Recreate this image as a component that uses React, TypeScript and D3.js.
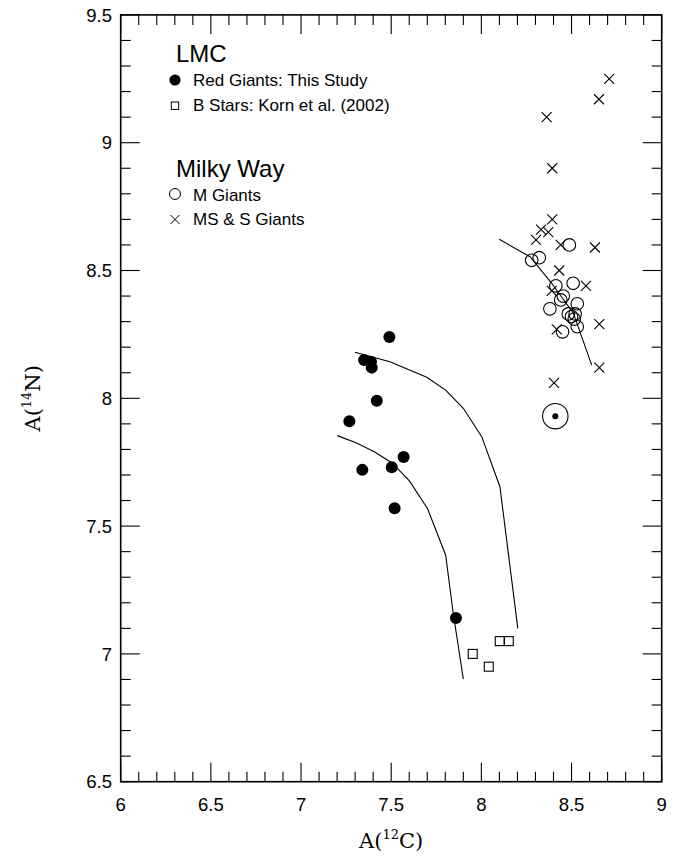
import React from 'react';
import * as d3 from 'd3';

const W = 678;
const H = 857;

const xTickValues = [6, 6.5, 7, 7.5, 8, 8.5, 9];
const xTickLabels = ['6', '6.5', '7', '7.5', '8', '8.5', '9'];
const yTickValues = [6.5, 7, 7.5, 8, 8.5, 9, 9.5];
const yTickLabels = ['6.5', '7', '7.5', '8', '8.5', '9', '9.5'];

// LMC red giants (this study): [A(12C), A(14N)]
const redGiants: [number, number][] = [
  [7.49, 8.24], [7.35, 8.15], [7.388, 8.143], [7.392, 8.12], [7.42, 7.99],
  [7.268, 7.91], [7.569, 7.77], [7.34, 7.72], [7.503, 7.73], [7.519, 7.57],
  [7.859, 7.14],
];

// LMC B stars (Korn et al. 2002)
const bStars: [number, number][] = [
  [7.952, 7.0], [8.041, 6.95], [8.102, 7.05], [8.152, 7.05],
];

// Milky Way M giants
const mGiants: [number, number][] = [
  [8.488, 8.60], [8.279, 8.54], [8.321, 8.55], [8.413, 8.44], [8.509, 8.45],
  [8.454, 8.40], [8.44, 8.385], [8.532, 8.37], [8.38, 8.35], [8.482, 8.33],
  [8.50, 8.32], [8.515, 8.31], [8.52, 8.33], [8.532, 8.28], [8.45, 8.26],
];

// Milky Way MS & S giants
const msGiants: [number, number][] = [
  [8.709, 9.25], [8.652, 9.17], [8.362, 9.10], [8.393, 8.90], [8.393, 8.70],
  [8.331, 8.66], [8.371, 8.65], [8.303, 8.62], [8.44, 8.60], [8.63, 8.59],
  [8.432, 8.50], [8.58, 8.44], [8.39, 8.42], [8.654, 8.29], [8.418, 8.27],
  [8.654, 8.12], [8.403, 8.06],
];

// Sun
const sun: [number, number] = [8.41, 7.93];

// Model tracks
const lowerTrack: [number, number][] = [
  [7.201, 7.854], [7.305, 7.826], [7.406, 7.791], [7.503, 7.748], [7.6, 7.678],
  [7.702, 7.568], [7.802, 7.386], [7.844, 7.159], [7.9, 6.901],
];
const upperTrack: [number, number][] = [
  [7.299, 8.18], [7.493, 8.143], [7.697, 8.082], [7.802, 8.032], [7.9, 7.961],
  [8.002, 7.85], [8.103, 7.654], [8.202, 7.1],
];
const mwTrack: [number, number][] = [
  [8.099, 8.622], [8.27, 8.554], [8.39, 8.45], [8.51, 8.333], [8.612, 8.13],
];

const x = d3.scaleLinear().domain([6, 9]).range([120.7, 661.7]);
const y = d3.scaleLinear().domain([6.5, 9.5]).range([781.7, 14.9]);

const sans = '"Liberation Sans", Arial, Helvetica, sans-serif';
const serif = '"DejaVu Serif", "Liberation Serif", serif';

function crossPath(cx: number, cy: number, h: number) {
  return `M${cx - h},${cy - h}L${cx + h},${cy + h}M${cx - h},${cy + h}L${cx + h},${cy - h}`;
}

export default function App() {
  const [x0, x1] = x.range();
  const [y0, y1] = y.range();
  const minorX = d3.range(60, 91).map((v) => v / 10);
  const minorY = d3.range(65, 96).map((v) => v / 10);
  const isMajor = (v: number) => Math.abs(v * 2 - Math.round(v * 2)) < 1e-6;
  const line = d3.line<[number, number]>().x((d) => x(d[0])).y((d) => y(d[1]));
  const majorLen = 19;
  const minorLen = 10;

  return (
    <svg width={W} height={H} style={{ position: 'absolute', left: 0, top: 0, background: '#fff' }}>
      {/* ticks */}
      <g stroke="#000" strokeWidth={1.1}>
        {minorX.map((v, i) => {
          const L = isMajor(v) ? majorLen : minorLen;
          const px = x(v);
          return (
            <g key={'xt' + i}>
              <line x1={px} x2={px} y1={y0} y2={y0 - L} />
              <line x1={px} x2={px} y1={y1} y2={y1 + L} />
            </g>
          );
        })}
        {minorY.map((v, i) => {
          const L = isMajor(v) ? majorLen : minorLen;
          const py = y(v);
          return (
            <g key={'yt' + i}>
              <line x1={x0} x2={x0 + L} y1={py} y2={py} />
              <line x1={x1} x2={x1 - L} y1={py} y2={py} />
            </g>
          );
        })}
      </g>
      {/* frame */}
      <rect x={x0} y={y1} width={x1 - x0} height={y0 - y1} fill="none" stroke="#000" strokeWidth={1.6} />

      {/* tick labels */}
      <g fontFamily={sans} fontSize={18.5} fill="#000">
        {xTickValues.map((v, i) => (
          <text key={'xl' + i} x={x(v)} y={811} textAnchor="middle">{xTickLabels[i]}</text>
        ))}
        {yTickValues.map((v, i) => (
          <text key={'yl' + i} x={112} y={y(v) + 6.7} textAnchor="end">{yTickLabels[i]}</text>
        ))}
      </g>

      {/* axis titles */}
      <text x={(x0 + x1) / 2} y={848} textAnchor="middle" fontFamily={serif} fontSize={21} fill="#000">
        A(<tspan fontSize={13} dy={-9}>12</tspan><tspan dy={9}>C)</tspan>
      </text>
      <text
        transform={`translate(${40},${(y0 + y1) / 2}) rotate(-90)`}
        textAnchor="middle"
        fontFamily={serif}
        fontSize={21}
        fill="#000"
      >
        A(<tspan fontSize={13} dy={-9}>14</tspan><tspan dy={9}>N)</tspan>
      </text>

      {/* model tracks */}
      <g fill="none" stroke="#000" strokeWidth={1.1}>
        <path d={line(lowerTrack) || ''} />
        <path d={line(upperTrack) || ''} />
        <path d={line(mwTrack) || ''} />
      </g>

      {/* data */}
      <g>
        {redGiants.map((d, i) => (
          <circle key={'rg' + i} cx={x(d[0])} cy={y(d[1])} r={6} fill="#000" />
        ))}
        {bStars.map((d, i) => (
          <rect key={'bs' + i} x={x(d[0]) - 4.5} y={y(d[1]) - 4.5} width={9} height={9} fill="none" stroke="#000" strokeWidth={1.1} />
        ))}
        {mGiants.map((d, i) => (
          <circle key={'mg' + i} cx={x(d[0])} cy={y(d[1])} r={6.3} fill="none" stroke="#000" strokeWidth={1.1} />
        ))}
        {msGiants.map((d, i) => (
          <path key={'ms' + i} d={crossPath(x(d[0]), y(d[1]), 5)} stroke="#000" strokeWidth={1.1} fill="none" />
        ))}
        <circle cx={x(sun[0])} cy={y(sun[1])} r={12.7} fill="none" stroke="#000" strokeWidth={1.1} />
        <circle cx={x(sun[0])} cy={y(sun[1])} r={3} fill="#000" />
      </g>

      {/* legend */}
      <g fontFamily={sans} fill="#000">
        <text x={176} y={62} fontSize={24}>LMC</text>
        <circle cx={175} cy={80} r={5.6} fill="#000" />
        <text x={193} y={85.7} fontSize={17}>Red Giants: This Study</text>
        <rect x={171.3} y={102} width={7.4} height={7.4} fill="none" stroke="#000" strokeWidth={1} />
        <text x={193} y={110.7} fontSize={17}>B Stars: Korn et al. (2002)</text>
        <text x={176} y={176.7} fontSize={24}>Milky Way</text>
        <circle cx={175} cy={194} r={5.5} fill="none" stroke="#000" strokeWidth={1} />
        <text x={193} y={200.7} fontSize={17}>M Giants</text>
        <path d={crossPath(175, 219.5, 4.5)} stroke="#000" strokeWidth={1} fill="none" />
        <text x={193} y={225} fontSize={17}>MS &amp; S Giants</text>
      </g>
    </svg>
  );
}
